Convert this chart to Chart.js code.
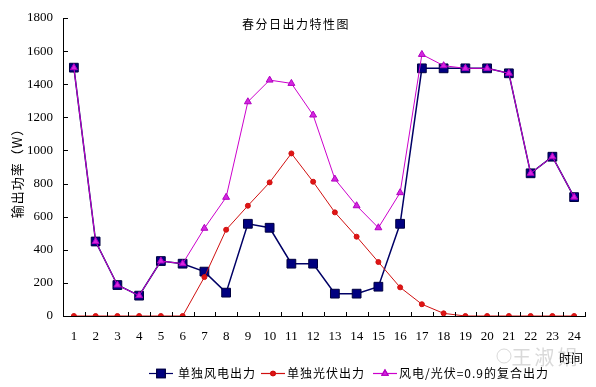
<!DOCTYPE html>
<html>
<head>
<meta charset="utf-8">
<script src="https://cdn.jsdelivr.net/npm/chart.js@4.4.1/dist/chart.umd.min.js"></script>
<style>
  html, body { margin: 0; padding: 0; background: #fff; }
  #wrap { width: 596px; height: 387px; }
</style>
</head>
<body>
<div id="wrap"><canvas id="chart" width="596" height="387"></canvas></div>
<script>
// 春分日出力特性图 data
const hours = ['1','2','3','4','5','6','7','8','9','10','11','12','13','14','15','16','17','18','19','20','21','22','23','24'];
const windOutput  = [1500, 450, 187, 123, 332, 316, 268, 141, 557, 533, 316, 316, 135, 135, 177, 557, 1496, 1496, 1496, 1496, 1466, 862, 962, 718];
const solarOutput = [0, 0, 0, 0, 0, 0, 235, 521, 666, 807, 982, 811, 626, 479, 326, 173, 71, 16, 0, 0, 0, 0, 0, 0];
const mixOutput   = [1500, 450, 187, 123, 332, 316, 530, 717, 1294, 1425, 1405, 1214, 827, 666, 533, 745, 1580, 1512, 1496, 1496, 1466, 862, 962, 718];
const yTicks = [0, 200, 400, 600, 800, 1000, 1200, 1400, 1600, 1800];

const seriesNames = ['单独风电出力', '单独光伏出力', '风电/光伏=0.9的复合出力'];
const cjk = '"Noto Sans CJK SC", sans-serif';

// draws title, axis labels, inner tick marks and the legend
const decorations = {
    id: 'decorations',
    afterDraw(chart) {
        const ctx = chart.ctx;
        const area = chart.chartArea;
        const x = chart.scales.x;
        const y = chart.scales.y;
        ctx.save();

        // inner tick marks
        ctx.strokeStyle = '#000';
        ctx.lineWidth = 1;
        ctx.beginPath();
        const step = (x.right - x.left) / hours.length;
        for (let i = 0; i <= hours.length; i++) {
            const px = Math.round(x.left + i * step) + 0.5;
            ctx.moveTo(px, area.bottom);
            ctx.lineTo(px, area.bottom - 4);
        }
        yTicks.forEach(v => {
            const py = Math.round(y.getPixelForValue(v)) + 0.5;
            ctx.moveTo(area.left, py);
            ctx.lineTo(area.left + 5, py);
        });
        ctx.stroke();

        // title
        ctx.fillStyle = '#000';
        ctx.font = '12px ' + cjk;
        ctx.letterSpacing = '1.5px';
        ctx.textAlign = 'center';
        ctx.textBaseline = 'middle';
        ctx.fillText('春分日出力特性图', 296, 24);

        // y label
        ctx.save();
        ctx.translate(17, 170);
        ctx.rotate(-Math.PI / 2);
        ctx.font = '13px ' + cjk;
        ctx.letterSpacing = '1px';
        ctx.fillText('输出功率（W）', 0, 0);
        ctx.restore();

        // watermark
        ctx.fillStyle = 'rgba(170,170,170,0.45)';
        ctx.font = '20px ' + cjk;
        ctx.letterSpacing = '3px';
        ctx.fillText('王淑娟', 546, 357);
        ctx.strokeStyle = 'rgba(170,170,170,0.45)';
        ctx.beginPath();
        ctx.arc(504, 356, 7, 0, Math.PI * 2);
        ctx.stroke();

        // x label
        ctx.fillStyle = '#000';
        ctx.font = '12px ' + cjk;
        ctx.letterSpacing = '0px';
        ctx.fillText('时间', 571, 358);

        // legend
        const ly = 373;
        const items = [
            { x0: 149, tx: 178 },
            { x0: 261, tx: 287 },
            { x0: 373, tx: 399 }
        ];
        ctx.textAlign = 'left';
        ctx.letterSpacing = '1px';
        chart.data.datasets.forEach((ds, i) => {
            const it = items[i];
            ctx.strokeStyle = ds.borderColor;
            ctx.lineWidth = 1.2;
            ctx.beginPath();
            ctx.moveTo(it.x0, ly + 0.5);
            ctx.lineTo(it.x0 + 24, ly + 0.5);
            ctx.stroke();
            Chart.helpers.drawPoint(ctx, {
                pointStyle: ds.pointStyle,
                radius: ds.legendRadius,
                borderWidth: 1
            }, it.x0 + 12, ly + 0.5);
            ctx.fillStyle = ds.pointBackgroundColor;
            ctx.strokeStyle = ds.pointBorderColor;
            ctx.fill();
            ctx.stroke();
            ctx.fillStyle = '#000';
            ctx.font = '12px ' + cjk;
            ctx.fillText(ds.label, it.tx, ly);
        });
        ctx.restore();
    }
};

new Chart(document.getElementById('chart'), {
    type: 'line',
    data: {
        labels: hours,
        datasets: [{
            label: seriesNames[0],
            data: windOutput,
            borderColor: '#000066',
            borderWidth: 1.5,
            pointStyle: 'rect',
            pointRadius: 6.2,
            legendRadius: 6,
            pointBackgroundColor: '#000080',
            pointBorderColor: '#000040',
            pointBorderWidth: 1,
            tension: 0,
            order: 2
        }, {
            label: seriesNames[1],
            data: solarOutput,
            borderColor: '#d01010',
            borderWidth: 1,
            pointStyle: 'circle',
            pointRadius: 2.5,
            legendRadius: 2.2,
            pointBackgroundColor: '#e01515',
            pointBorderColor: '#d01010',
            pointBorderWidth: 1,
            tension: 0,
            order: 1
        }, {
            label: seriesNames[2],
            data: mixOutput,
            borderColor: '#cc00cc',
            borderWidth: 1,
            pointStyle: 'triangle',
            pointRadius: 4,
            legendRadius: 3.5,
            pointBackgroundColor: '#d526e0',
            pointBorderColor: '#b000c0',
            pointBorderWidth: 1,
            tension: 0,
            order: 0
        }]
    },
    options: {
        responsive: false,
        animation: false,
        layout: { padding: { left: 0, right: 11, top: 18, bottom: 0 } },
        plugins: {
            legend: { display: false },
            title: { display: false },
            tooltip: { enabled: false }
        },
        scales: {
            x: {
                offset: true,
                grid: { display: false, drawTicks: false },
                border: { display: true, color: '#000', width: 1 },
                ticks: {
                    color: '#000',
                    padding: 13,
                    maxRotation: 0,
                    autoSkip: false,
                    font: { family: '"Liberation Serif", serif', size: 13 }
                },
                afterFit(scale) { scale.height = 71; }
            },
            y: {
                min: 0,
                max: 1800,
                grid: { display: false, drawTicks: false },
                border: { display: true, color: '#000', width: 1 },
                afterBuildTicks(scale) { scale.ticks = yTicks.map(v => ({ value: v })); },
                ticks: {
                    color: '#000',
                    padding: 10,
                    font: { family: '"Liberation Serif", serif', size: 13 },
                    callback: function(value) { return String(value); }
                },
                afterFit(scale) { scale.width = 63; }
            }
        }
    },
    plugins: [decorations]
});
</script>
</body>
</html>
